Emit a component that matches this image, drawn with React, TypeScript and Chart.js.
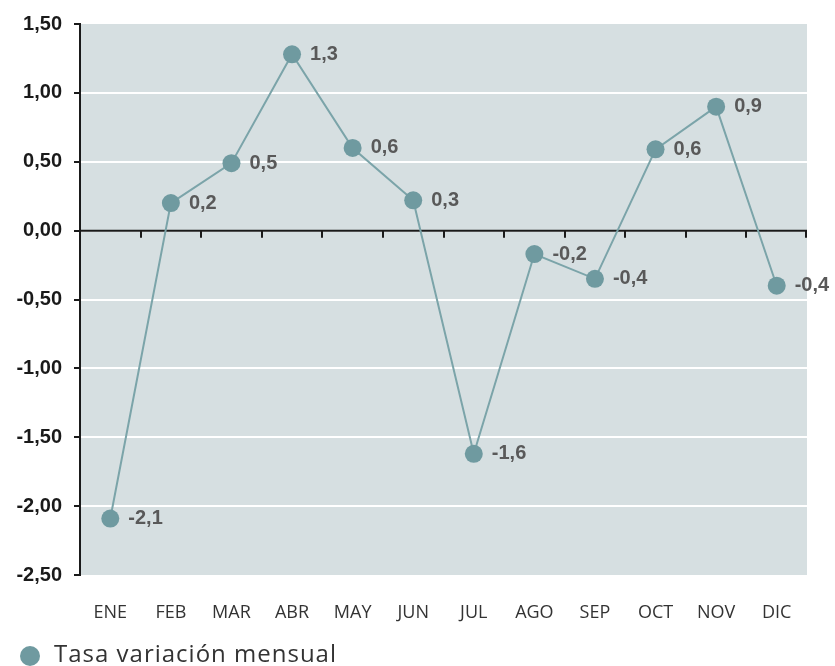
import React, { useEffect, useRef } from "react";
import { Chart, registerables } from "chart.js";
Chart.register(...registerables);

const months = ["ENE", "FEB", "MAR", "ABR", "MAY", "JUN", "JUL", "AGO", "SEP", "OCT", "NOV", "DIC"];
const values = [-2.09, 0.2, 0.49, 1.28, 0.6, 0.22, -1.62, -0.17, -0.35, 0.59, 0.9, -0.4];
const pointLabels = ["-2,1", "0,2", "0,5", "1,3", "0,6", "0,3", "-1,6", "-0,2", "-0,4", "0,6", "0,9", "-0,4"];
const seriesName = "Tasa variación mensual";
const yMin = -2.5;
const yMax = 1.5;
const yStep = 0.5;

const BG = "#d6dfe1";
const POINT = "#6f9aa0";
const LINE = "#7ba4a9";
const AXIS = "#1a1a1a";

const decor = {
  id: "decor",
  beforeDraw(chart: any) {
    const { ctx, chartArea: a } = chart;
    ctx.save();
    ctx.fillStyle = BG;
    ctx.fillRect(a.left, a.top, a.right - a.left, a.bottom - a.top);
    ctx.restore();
  },
  beforeDatasetsDraw(chart: any) {
    const { ctx, chartArea: a } = chart;
    const xs = chart.scales.x;
    const y0 = chart.scales.y.getPixelForValue(0);
    ctx.save();
    ctx.strokeStyle = AXIS;
    ctx.lineWidth = 2;
    ctx.beginPath();
    ctx.moveTo(a.left, y0);
    ctx.lineTo(a.right, y0);
    const n = months.length;
    for (let i = 1; i <= n; i++) {
      const bx = i < n ? (xs.getPixelForValue(i - 1) + xs.getPixelForValue(i)) / 2 : a.right - 1;
      const px = Math.round(bx);
      ctx.moveTo(px, y0);
      ctx.lineTo(px, y0 + 7);
    }
    ctx.stroke();
    ctx.restore();
  },
  afterDatasetsDraw(chart: any) {
    const { ctx } = chart;
    const meta = chart.getDatasetMeta(0);
    ctx.save();
    ctx.fillStyle = "#595959";
    ctx.font = "bold 20px 'Liberation Sans', Arial, sans-serif";
    ctx.textAlign = "left";
    ctx.textBaseline = "middle";
    meta.data.forEach((pt: any, i: number) => {
      ctx.fillText(pointLabels[i], pt.x + 18, pt.y);
    });
    ctx.restore();
  },
  afterDraw(chart: any) {
    const { ctx } = chart;
    ctx.save();
    ctx.fillStyle = POINT;
    ctx.beginPath();
    ctx.arc(30, 656, 10, 0, Math.PI * 2);
    ctx.fill();
    ctx.fillStyle = "#333333";
    ctx.font = "24px 'Open Sans', sans-serif";
    try {
      (ctx as any).letterSpacing = "1px";
    } catch (e) {}
    ctx.textAlign = "left";
    ctx.textBaseline = "alphabetic";
    ctx.fillText(seriesName, 54, 662);
    ctx.restore();
  },
};

export default function App() {
  const ref = useRef<HTMLCanvasElement | null>(null);
  useEffect(() => {
    if (!ref.current) return;
    const chart = new Chart(ref.current, {
      type: "line",
      data: {
        labels: months,
        datasets: [
          {
            label: seriesName,
            data: values,
            borderColor: LINE,
            borderWidth: 2,
            pointRadius: 9,
            pointHoverRadius: 9,
            pointBackgroundColor: POINT,
            pointBorderWidth: 0,
            tension: 0,
            clip: false as any,
          },
        ],
      },
      options: {
        animation: false,
        responsive: false,
        maintainAspectRatio: false,
        layout: { padding: { top: 24, right: 28, left: 0, bottom: 0 } },
        plugins: { legend: { display: false }, tooltip: { enabled: false } },
        scales: {
          x: {
            type: "category",
            offset: true,
            grid: { display: false, drawTicks: false },
            border: { display: false },
            ticks: {
              color: "#333333",
              font: { family: "'Open Sans', sans-serif", size: 18 },
              padding: 27,
              maxRotation: 0,
              autoSkip: false,
            },
            afterFit(s: any) {
              s.height = 91;
            },
          },
          y: {
            min: yMin,
            max: yMax,
            ticks: {
              stepSize: yStep,
              color: AXIS,
              font: { family: "'Liberation Sans', Arial, sans-serif", size: 20, weight: "bold" },
              padding: 12,
              callback: (v: any) => Number(v).toFixed(2).replace(".", ","),
            },
            grid: {
              color: (c: any) => {
                const v = c.tick ? c.tick.value : null;
                if (v === null || Math.abs(v - yMax) < 1e-9 || Math.abs(v - yMin) < 1e-9) return "rgba(0,0,0,0)";
                return "#ffffff";
              },
              lineWidth: 2,
              tickColor: AXIS,
              tickLength: 6,
              tickWidth: 2,
            },
            border: { color: AXIS, width: 2 },
            afterFit(s: any) {
              s.width = 80;
            },
          },
        },
      },
      plugins: [decor],
    });
    return () => chart.destroy();
  }, []);
  return (
    <div style={{ position: "fixed", left: 0, top: 0, width: 835, height: 666, background: "#fff" }}>
      <canvas ref={ref} width={835} height={666} style={{ display: "block" }} />
    </div>
  );
}
